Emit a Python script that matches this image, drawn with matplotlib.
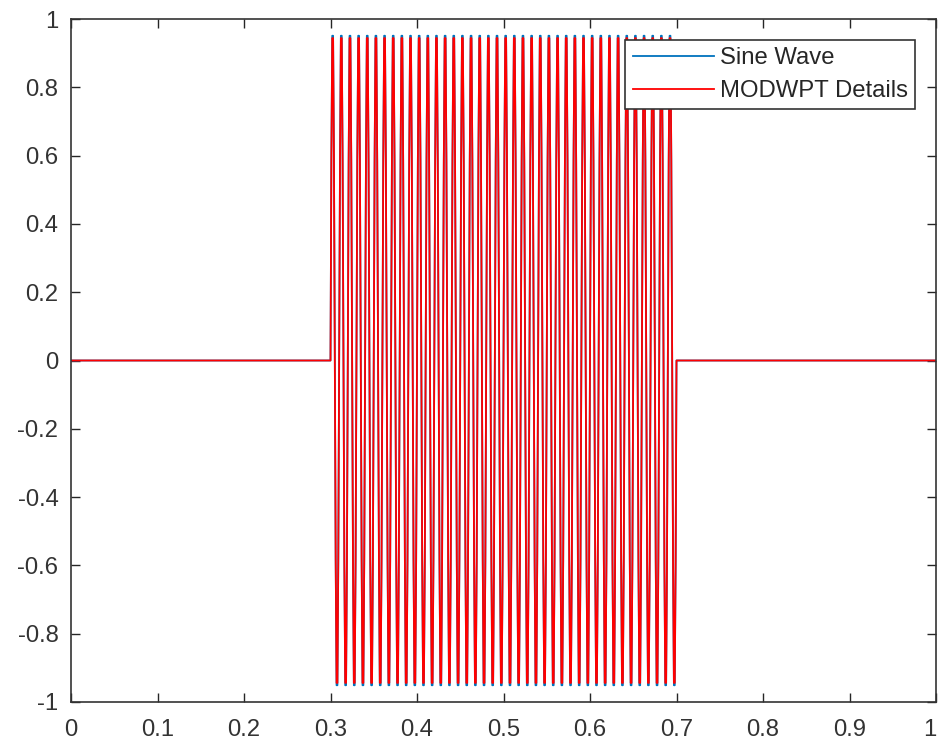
import numpy as np
import matplotlib
matplotlib.use("Agg")
import matplotlib.pyplot as plt

plt.rcParams['font.family'] = ['Liberation Sans', 'DejaVu Sans']
plt.rcParams['axes.unicode_minus'] = False

# sample grid: 1 kHz over [0, 1] s
fs = 1000
duration = 1.0
burst_start = 0.3   # s
n_cycles = 40       # cycles inside the burst (0.3 -> 0.7)

# one period of samples (10 samples per cycle)
sine_cycle = [0, 0.588, 0.951, 0.951, 0.588, 0, -0.588, -0.951, -0.951, -0.588]
modwpt_cycle = [0, 0.584, 0.944, 0.944, 0.584, 0, -0.584, -0.944, -0.944, -0.584]

xticks = [0, 0.1, 0.2, 0.3, 0.4, 0.5, 0.6, 0.7, 0.8, 0.9, 1]
xticklabels = ['0', '0.1', '0.2', '0.3', '0.4', '0.5', '0.6', '0.7', '0.8', '0.9', '1']
yticks = [-1, -0.8, -0.6, -0.4, -0.2, 0, 0.2, 0.4, 0.6, 0.8, 1]
yticklabels = ['-1', '-0.8', '-0.6', '-0.4', '-0.2', '0', '0.2', '0.4', '0.6', '0.8', '1']


def burst(cycle):
    n = int(round(duration * fs)) + 1
    y = np.zeros(n)
    i0 = int(round(burst_start * fs))
    block = np.tile(cycle, n_cycles)
    y[i0:i0 + len(block)] = block
    return y


t = np.arange(int(round(duration * fs)) + 1) / fs
x = burst(sine_cycle)
d = burst(modwpt_cycle)

W, H = 941, 744
fig = plt.figure(figsize=(W / 100, H / 100), dpi=100)
ax = fig.add_axes([71 / W, 42 / H, 865 / W, 683 / H])

ax.plot(t, x, color='#0072BD', lw=1.3, label='Sine Wave')
ax.plot(t, d, color='#FF0000', lw=1.3, label='MODWPT Details')

ax.set_xlim(0, 1)
ax.set_ylim(-1, 1)
ax.set_xticks(xticks)
ax.set_xticklabels(xticklabels)
ax.set_yticks(yticks)
ax.set_yticklabels(yticklabels)

ax.tick_params(direction='in', top=True, right=True, length=6.5, width=1.0,
               colors='#262626', labelsize=17.2)
ax.tick_params(axis='x', pad=12)
ax.tick_params(axis='y', pad=9)
for lab in ax.get_xticklabels() + ax.get_yticklabels():
    lab.set_color('#333333')
# keep the last x label inside the canvas
ax.get_xticklabels()[-1].set_horizontalalignment('right')
for s in ax.spines.values():
    s.set_color('#333333')
    s.set_linewidth(1.2)

leg = ax.legend(loc='upper right', bbox_to_anchor=(0.9757, 0.9693), fontsize=17.2,
                frameon=True, fancybox=False, framealpha=1.0,
                handlelength=3.4, handletextpad=0.25,
                borderpad=0.3, labelspacing=0.45, borderaxespad=0)
leg.get_frame().set_edgecolor('#333333')
leg.get_frame().set_linewidth(1.2)
for txt in leg.get_texts():
    txt.set_color('#262626')

fig.savefig('out.png', dpi=100)
